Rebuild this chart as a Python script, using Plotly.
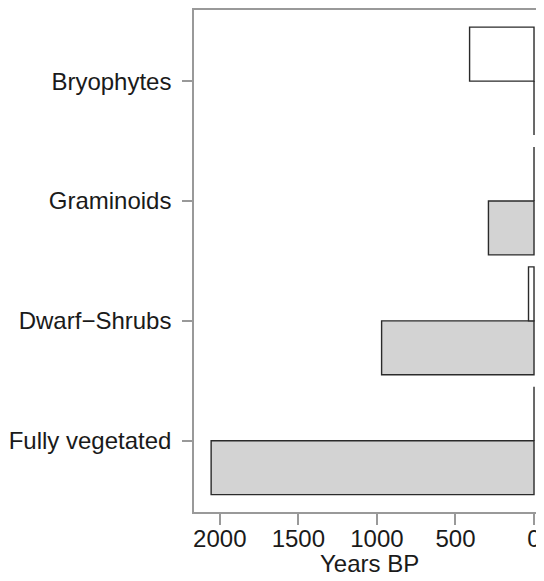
import plotly.graph_objects as go

categories = ["Fully vegetated", "Dwarf\u2212Shrubs", "Graminoids", "Bryophytes"]
white_values = [0, 35, 0, 410]
grey_values = [2055, 970, 290, 0]
x_ticks = [2000, 1500, 1000, 500, 0]
x_title = "Years BP"

group_step = 2.2222
centers = [i * group_step for i in range(len(categories))]

fig = go.Figure()
fig.add_trace(go.Bar(
    x=grey_values, y=[c - 0.5 for c in centers], orientation="h", width=1,
    marker=dict(color="#d3d3d3", line=dict(color="#2a2a2a", width=1.4)),
    showlegend=False, hoverinfo="skip"))
fig.add_trace(go.Bar(
    x=white_values, y=[c + 0.5 for c in centers], orientation="h", width=1,
    marker=dict(color="white", line=dict(color="#2a2a2a", width=1.4)),
    showlegend=False, hoverinfo="skip"))

font = dict(family="Liberation Sans, Arial, sans-serif", size=24, color="#1a1a1a")
fig.update_layout(
    width=536, height=573,
    margin=dict(l=185.5, r=0, t=1.5, b=69.3),
    paper_bgcolor="white", plot_bgcolor="white",
    barmode="overlay",
    font=font,
    xaxis=dict(range=[2164, -63.6], tickvals=x_ticks, ticktext=[str(v) for v in x_ticks],
               showgrid=False, zeroline=False, showline=True, mirror=True,
               linecolor="#999999", linewidth=1.5,
               ticks="outside", ticklen=11, tickwidth=1.5, tickcolor="#999999",
               ticklabelstandoff=-7, tickfont=font),
    yaxis=dict(range=[-1.322, 7.985], tickvals=centers, ticktext=categories,
               showgrid=False, zeroline=False, showline=True, mirror=False,
               linecolor="#999999", linewidth=1.5,
               ticks="outside", ticklen=10, tickwidth=1.5, tickcolor="#999999",
               ticklabelstandoff=6, tickfont=font),
    annotations=[dict(text=x_title, xref="paper", yref="paper", x=0.5, y=-0.1021,
                      xanchor="center", yanchor="middle", showarrow=False, font=font)],
)
fig.write_html("out.html")
